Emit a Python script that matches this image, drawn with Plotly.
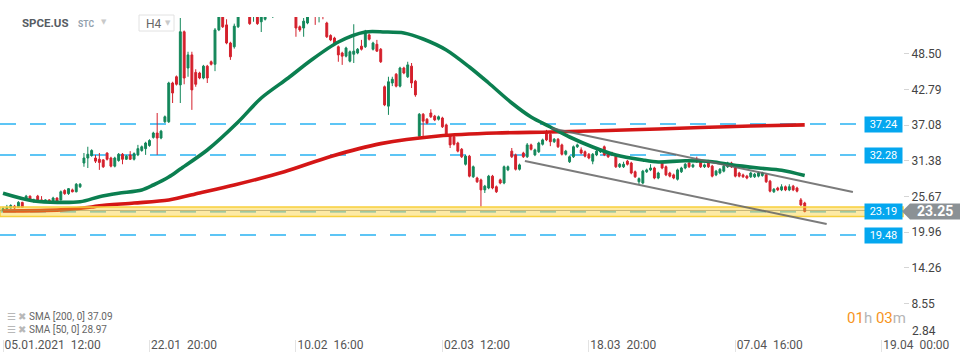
import plotly.graph_objects as go

# ---------------- data ----------------
opens = [23.4, 23.7, 23.8, 24.1, 23.9, 24.7, 25.1, 25.7, 24.8, 25.7,
         25.1, 24.8, 25.1, 24.8, 25.4, 25.1, 26.6, 26.1, 26.7, 26.4,
         27.2, 31.0, 31.8, 32.2, 31.8, 31.6, 31.5, 32.6, 31.8, 30.5,
         31.4, 32.4, 31.6, 32.3, 31.6, 32.3, 33.0, 33.3, 33.8, 35.1,
         35.8, 35.0, 37.6, 37.6, 43.8, 44.8, 43.5, 52.0, 46.2, 48.3,
         45.5, 45.4, 44.6, 46.5, 47.2, 46.8, 52.3, 55.0, 53.1, 50.2,
         49.6, 52.8, 55.2, 57.0, 55.5, 54.8, 55.6, 53.6, 54.0, 55.6,
         55.0, 56.0, 57.5, 56.5, 57.8, 56.8, 55.5, 52.8, 52.6, 53.4,
         55.2, 55.5, 55.0, 56.0, 53.4, 51.4, 51.0, 49.6, 48.6, 48.1,
         47.3, 48.4, 48.6, 49.7, 49.6, 51.5, 49.2, 50.0, 49.2, 43.2,
         40.1, 43.8, 45.2, 43.3, 46.2, 44.8, 46.5, 44.1, 35.3, 38.8,
         38.0, 39.0, 38.5, 38.0, 38.2, 37.1, 35.3, 35.2, 34.2, 33.2,
         30.8, 32.1, 28.8, 28.6, 28.3, 26.7, 27.0, 28.9, 27.2, 28.3,
         27.8, 29.9, 32.9, 32.3, 30.0, 32.6, 32.0, 33.9, 32.3, 32.8,
         34.0, 35.8, 35.6, 34.4, 34.8, 33.9, 32.4, 31.2, 32.0, 33.6,
         33.1, 32.8, 32.4, 31.3, 32.3, 32.8, 33.6, 32.6, 32.6, 32.1,
         30.4, 30.4, 31.3, 31.0, 29.6, 28.0, 27.8, 29.6, 29.9, 30.2,
         28.6, 31.0, 30.4, 29.4, 29.1, 28.4, 29.6, 30.2, 31.0, 30.4,
         31.5, 31.2, 30.4, 31.0, 30.5, 29.1, 29.4, 29.7, 30.4, 31.0,
         30.2, 29.4, 29.1, 28.9, 28.8, 28.8, 28.9, 29.0, 29.1, 28.1,
         26.4, 27.0, 26.7, 27.2, 26.7, 27.3, 27.0, 25.1, 24.6]
highs = [24.0, 24.3, 24.4, 24.3, 24.9, 24.8, 25.9, 25.8, 25.3, 25.9,
         25.7, 25.2, 25.2, 25.6, 25.5, 26.6, 26.8, 27.0, 26.9, 27.8,
         27.8, 32.6, 33.6, 33.2, 32.3, 32.6, 31.6, 32.7, 32.0, 32.0,
         32.6, 32.6, 32.3, 32.9, 32.7, 33.9, 33.8, 34.4, 34.8, 36.0,
         39.0, 36.3, 38.6, 44.0, 44.0, 45.0, 54.2, 52.2, 48.8, 48.8,
         46.0, 45.6, 46.7, 46.7, 47.4, 52.6, 55.5, 55.4, 54.0, 50.4,
         53.3, 55.6, 57.8, 58.0, 55.8, 57.0, 56.0, 55.5, 55.8, 56.0,
         56.5, 58.0, 58.0, 58.5, 58.3, 57.0, 55.8, 53.0, 54.2, 55.6,
         56.5, 55.8, 56.4, 56.2, 53.6, 51.6, 51.2, 49.8, 48.8, 49.6,
         49.0, 53.2, 49.4, 50.7, 52.3, 51.7, 50.4, 50.7, 49.4, 43.4,
         44.8, 44.8, 45.4, 46.4, 46.4, 47.2, 47.0, 44.3, 39.0, 39.0,
         38.2, 39.6, 38.7, 38.6, 38.4, 37.3, 35.5, 35.4, 34.4, 33.4,
         32.3, 32.3, 30.6, 28.8, 28.5, 27.5, 29.1, 29.1, 27.4, 28.5,
         30.6, 30.6, 33.4, 32.5, 30.9, 32.8, 34.2, 34.1, 33.3, 34.4,
         34.9, 36.3, 35.8, 35.0, 35.0, 34.1, 33.1, 32.2, 33.8, 34.1,
         33.5, 33.0, 32.6, 32.6, 33.1, 33.4, 33.8, 32.8, 32.8, 32.3,
         31.0, 31.2, 31.5, 31.2, 29.8, 28.7, 29.9, 30.1, 30.8, 30.4,
         29.6, 31.2, 30.6, 29.6, 29.3, 30.1, 30.4, 31.0, 31.2, 30.9,
         32.0, 31.4, 30.9, 31.5, 30.7, 29.9, 30.2, 30.7, 31.2, 31.2,
         30.4, 29.6, 29.3, 29.1, 29.6, 29.4, 29.6, 29.6, 29.3, 28.3,
         27.0, 27.2, 27.6, 27.4, 27.6, 27.5, 27.2, 25.4, 24.8]
lows = [23.2, 23.5, 23.7, 23.6, 23.8, 23.8, 25.0, 24.9, 24.7, 24.8,
        24.7, 24.6, 24.6, 24.6, 24.8, 25.0, 25.9, 25.9, 26.3, 26.3,
        27.0, 30.4, 30.2, 32.0, 31.0, 29.9, 30.2, 31.4, 30.3, 30.3,
        31.2, 30.8, 31.5, 31.5, 31.4, 32.1, 32.8, 32.3, 33.6, 34.9,
        32.3, 34.8, 37.4, 37.4, 40.6, 43.4, 40.6, 43.6, 44.8, 39.5,
        43.2, 44.4, 44.4, 43.8, 46.6, 45.7, 52.1, 52.6, 50.0, 47.5,
        49.3, 52.6, 54.8, 54.9, 53.1, 53.6, 53.1, 51.96, 53.8, 54.5,
        54.2, 55.5, 56.0, 56.0, 56.3, 55.0, 51.2, 52.0, 51.2, 53.2,
        54.8, 53.1, 53.5, 54.0, 51.0, 50.5, 50.0, 47.2, 46.7, 47.9,
        47.1, 47.0, 48.4, 49.0, 49.4, 50.6, 49.0, 48.8, 47.0, 40.1,
        38.7, 43.3, 43.1, 43.1, 45.2, 44.6, 43.0, 41.6, 35.1, 35.2,
        37.2, 38.2, 37.7, 37.8, 36.6, 35.3, 33.4, 33.8, 32.7, 31.8,
        30.6, 28.7, 28.6, 27.8, 24.0, 26.2, 26.8, 26.8, 26.2, 27.6,
        27.6, 29.7, 31.8, 29.8, 29.8, 31.8, 31.8, 33.0, 32.1, 32.6,
        33.8, 34.5, 33.7, 34.2, 33.4, 32.2, 32.2, 31.0, 31.8, 33.4,
        32.4, 31.9, 31.6, 30.8, 32.1, 32.6, 32.1, 31.8, 32.1, 30.2,
        30.2, 30.2, 30.6, 29.2, 28.6, 27.6, 27.6, 29.4, 29.7, 28.4,
        28.4, 30.0, 28.9, 28.7, 28.4, 28.2, 29.4, 30.0, 30.2, 30.2,
        31.0, 30.2, 30.2, 30.2, 28.7, 28.9, 29.2, 29.5, 30.2, 30.2,
        28.7, 28.7, 28.6, 28.4, 28.6, 28.6, 28.7, 28.8, 27.8, 26.3,
        26.2, 26.5, 26.5, 26.5, 26.5, 26.5, 26.3, 24.1, 23.1]
closes = [23.7, 23.9, 24.2, 23.8, 24.7, 23.9, 25.7, 25.1, 25.1, 24.9,
          24.8, 25.1, 24.8, 25.4, 24.9, 26.4, 26.1, 26.9, 26.4, 27.6,
          27.6, 31.8, 32.4, 33.0, 31.3, 31.1, 30.4, 31.6, 30.5, 31.8,
          32.4, 31.6, 32.1, 31.6, 32.5, 33.3, 33.6, 34.2, 34.6, 35.8,
          35.0, 36.1, 38.4, 43.8, 42.2, 43.6, 52.0, 44.6, 48.3, 42.7,
          43.6, 44.6, 46.5, 44.6, 46.8, 52.3, 55.0, 52.8, 50.2, 48.0,
          52.9, 55.0, 57.0, 55.5, 53.3, 56.5, 53.3, 55.0, 55.4, 54.8,
          56.0, 57.5, 56.5, 57.8, 56.8, 55.5, 52.6, 52.3, 53.7, 55.2,
          56.0, 54.6, 56.0, 55.0, 51.2, 50.7, 50.2, 48.3, 48.1, 49.4,
          48.8, 48.9, 49.2, 49.2, 51.8, 50.8, 50.2, 48.9, 47.2, 40.3,
          44.0, 44.4, 43.3, 46.2, 45.4, 46.7, 43.8, 41.9, 38.8, 37.7,
          37.4, 38.4, 37.9, 38.4, 36.8, 35.5, 33.9, 34.0, 32.9, 32.0,
          32.1, 28.9, 30.4, 28.0, 26.7, 27.3, 28.9, 27.0, 26.4, 27.8,
          30.4, 30.4, 32.0, 30.0, 30.7, 32.0, 33.9, 33.2, 33.1, 34.2,
          34.7, 34.7, 34.4, 34.8, 33.6, 32.4, 32.9, 32.0, 33.6, 33.9,
          32.6, 32.1, 31.8, 32.4, 32.9, 33.2, 32.3, 32.0, 32.3, 30.4,
          30.8, 30.8, 30.8, 29.4, 28.8, 28.5, 29.7, 29.9, 30.2, 28.6,
          29.4, 30.2, 29.1, 28.9, 28.6, 29.9, 30.2, 30.8, 30.4, 30.7,
          31.2, 30.4, 30.7, 30.4, 28.9, 29.7, 30.0, 30.5, 31.0, 30.4,
          28.9, 28.9, 28.8, 28.6, 29.4, 29.2, 29.4, 29.4, 28.0, 26.5,
          26.8, 26.7, 27.2, 26.7, 27.2, 26.7, 26.5, 24.3, 23.25]

# moving averages, read at points along the drawn curves (candle index, price)
sma200_idx = [0, 15, 23, 25, 34, 43, 51, 60, 73, 85, 98, 113, 128, 142, 157, 170, 181, 194, 208]
sma200_val = [23.32, 23.5, 23.96, 24.17, 24.6, 25.08, 26.2, 27.48, 29.6, 32.04, 34.1, 35.32,
              35.8, 35.96, 36.2, 36.44, 36.68, 36.92, 37.1]
sma50_idx = [0, 8, 20, 25, 30, 36, 39, 43, 46, 53, 61, 67, 74, 80, 87, 94, 99, 104, 109,
             115, 121, 126, 132, 137, 142, 147, 153, 159, 166, 170, 177, 184, 189, 196, 202, 208]
sma50_val = [26.15, 24.92, 24.8, 25.61, 26.15, 26.68, 27.48, 28.76, 30.04, 33.08, 37.56, 41.4,
             44.6, 47.48, 50.36, 51.96, 51.96, 51.8, 50.84, 49.08, 46.36, 43.8, 40.6, 38.36,
             36.76, 35.16, 33.56, 32.28, 31.48, 31.16, 31.36, 31.2, 30.7, 30.2, 29.85, 29.0]

levels = [37.24, 32.28, 23.19, 19.48]
zone_low, zone_high, zone_mid = 22.44, 23.96, 23.4
channel_upper_x = [142.3, 220.5]
channel_upper_y = [36.55, 26.36]
channel_lower_x = [135.4, 213.7]
channel_lower_y = [31.32, 21.24]

tick_idx = [0, 38, 76, 114, 152, 190, 228]
tick_text = ["05.01.2021\u00a0\u00a012:00", "22.01\u00a0\u00a020:00", "10.02\u00a0\u00a016:00",
             "02.03\u00a0\u00a012:00", "18.03\u00a0\u00a020:00", "07.04\u00a0\u00a016:00",
             "19.04\u00a0\u00a000:00"]
ytick_vals = [8.55, 14.26, 19.96, 25.67, 31.38, 37.08, 42.79, 48.50]
y_bottom_label = 2.84
last_price = 23.25
sma200_last = 37.09
sma50_last = 28.97

# ---------------- style / layout ----------------
W, H = 970, 364
ML, MR, MT, MB = 0, 67, 17, 25
PW, PH = W - ML - MR, H - MT - MB
Y0, Y1 = 2.84, 54.36
X0, X1 = -0.78, 233.5

GREEN = "#13875a"
RED = "#d4202c"
BLUE = "#29b2f2"
FONT = "Roboto"


def px2x(px):
    return (px - ML) / PW


def py2y(py):
    return (MT + PH - py) / PH


fig = go.Figure()
fig.add_trace(go.Candlestick(
    x=list(range(len(opens))), open=opens, high=highs, low=lows, close=closes,
    increasing=dict(line=dict(color=GREEN, width=1), fillcolor=GREEN),
    decreasing=dict(line=dict(color=RED, width=1), fillcolor=RED),
    whiskerwidth=0, showlegend=False, hoverinfo="skip"))
fig.add_trace(go.Scatter(x=sma200_idx, y=sma200_val, mode="lines",
                         line=dict(color="#d41616", width=3.6, shape="spline", smoothing=0.8),
                         showlegend=False, hoverinfo="skip"))
fig.add_trace(go.Scatter(x=sma50_idx, y=sma50_val, mode="lines",
                         line=dict(color="#0b7f50", width=3.6, shape="spline", smoothing=0.8),
                         showlegend=False, hoverinfo="skip"))

shapes = []
for lv in levels:
    shapes.append(dict(type="line", xref="x", yref="y", x0=X0, x1=221.5, y0=lv, y1=lv,
                       line=dict(color=BLUE, width=1.3, dash="16px,14px"), layer="below"))
# support zone
shapes.append(dict(type="rect", xref="paper", yref="y", x0=0, x1=1, y0=zone_low, y1=zone_high,
                   fillcolor="rgba(250,206,40,0.42)", line=dict(color="#f7d03c", width=1.5),
                   layer="above"))
shapes.append(dict(type="line", xref="paper", yref="y", x0=0, x1=1, y0=zone_mid, y1=zone_mid,
                   line=dict(color="rgba(160,140,80,0.55)", width=1), layer="above"))
# channel
for xs, ys in ((channel_upper_x, channel_upper_y), (channel_lower_x, channel_lower_y)):
    shapes.append(dict(type="line", xref="x", yref="y", x0=xs[0], x1=xs[1], y0=ys[0], y1=ys[1],
                       line=dict(color="rgba(100,100,100,0.85)", width=2), layer="above"))
# current price tag
cy = py2y(MT + (Y1 - last_price) / (Y1 - Y0) * PH)
dh = 8 / PH
shapes.append(dict(type="path", xref="paper", yref="paper",
                   path=(f"M {px2x(902)} {cy} L {px2x(910)} {cy + dh} L {px2x(960)} {cy + dh} "
                         f"L {px2x(960)} {cy - dh} L {px2x(910)} {cy - dh} Z"),
                   fillcolor="#8b9195", line=dict(width=0), layer="above"))
# H4 box
shapes.append(dict(type="rect", xref="paper", yref="paper", x0=px2x(139), x1=px2x(174),
                   y0=py2y(31), y1=py2y(15), line=dict(color="#e2e2e2", width=1),
                   fillcolor="white", layer="above"))

ann = []
for lv in levels:
    ann.append(dict(xref="paper", yref="y", x=px2x(883.5), y=lv, text=f"{lv:.2f}",
                    showarrow=False, bgcolor="#04a7ef", font=dict(family=FONT, size=11, color="white"),
                    width=35, height=13, borderpad=1, xanchor="center", yanchor="middle"))
ann.append(dict(xref="paper", yref="paper", x=px2x(935), y=cy, text=f"<b>{last_price:.2f}</b>",
                showarrow=False, font=dict(family=FONT, size=14, color="white"),
                xanchor="center", yanchor="middle"))
ann.append(dict(xref="paper", yref="paper", x=px2x(910), y=py2y(331), text=f"{y_bottom_label:.2f}",
                showarrow=False, font=dict(family=FONT, size=12, color="#444"),
                xanchor="left", yanchor="middle"))
ann.append(dict(xref="paper", yref="paper", x=px2x(20), y=py2y(23), text="<b>SPCE.US</b>",
                showarrow=False, font=dict(family=FONT, size=11.5, color="#565c63"),
                xanchor="left", yanchor="middle"))
ann.append(dict(xref="paper", yref="paper", x=px2x(76), y=py2y(24), text="<b>STC</b>",
                showarrow=False, font=dict(family=FONT, size=8.5, color="#93a1ae"),
                xanchor="left", yanchor="middle"))
ann.append(dict(xref="paper", yref="paper", x=px2x(99), y=py2y(22), text="▼",
                showarrow=False, font=dict(family="DejaVu Sans", size=7, color="#c9c9c9"),
                xanchor="left", yanchor="middle"))
ann.append(dict(xref="paper", yref="paper", x=px2x(144), y=py2y(23.5), text="H4",
                showarrow=False, font=dict(family=FONT, size=12, color="#666"),
                xanchor="left", yanchor="middle"))
ann.append(dict(xref="paper", yref="paper", x=px2x(163), y=py2y(23), text="▼",
                showarrow=False, font=dict(family="DejaVu Sans", size=7, color="#c9c9c9"),
                xanchor="left", yanchor="middle"))
for row, (per, val) in enumerate(((200, sma200_last), (50, sma50_last))):
    ann.append(dict(xref="paper", yref="paper", x=px2x(5), y=py2y(316.5 + 13 * row),
                    text=(f"<span style='color:#b8b8b8'>☰ ✖</span> SMA [{per}, 0] {val:.2f}"),
                    showarrow=False, font=dict(family=FONT, size=10, color="#666"),
                    xanchor="left", yanchor="middle"))
ann.append(dict(xref="paper", yref="paper", x=px2x(845), y=py2y(318),
                text=("<span style='color:#f7941d'>01</span><span style='color:#b5b5b5'>h</span> "
                      "<span style='color:#f7941d'>03</span><span style='color:#b5b5b5'>m</span>"),
                showarrow=False, font=dict(family=FONT, size=15), xanchor="left", yanchor="middle"))

fig.update_layout(
    width=W, height=H, margin=dict(l=ML, r=MR, t=MT, b=MB, pad=0, autoexpand=False),
    paper_bgcolor="white", plot_bgcolor="white", showlegend=False,
    font=dict(family=FONT, size=12, color="#444"),
    shapes=shapes, annotations=ann, hovermode=False,
)
fig.update_xaxes(range=[X0, X1], rangeslider_visible=False, showgrid=False, zeroline=False,
                 showline=False, tickmode="array", tickvals=tick_idx, ticktext=tick_text,
                 ticks="outside", ticklen=12, tickcolor="#e3e3e3", tickwidth=1,
                 ticklabelposition="outside right", ticklabelstandoff=-5, ticklabelshift=1,
                 tickfont=dict(family=FONT, size=12, color="#555"))
fig.update_yaxes(side="right", range=[Y0, Y1], showgrid=False, zeroline=False, showline=False,
                 tickmode="array", tickvals=ytick_vals, ticktext=[f"{v:.2f}" for v in ytick_vals],
                 ticks="outside", ticklen=5, tickcolor="#d5d5d5",
                 tickfont=dict(family=FONT, size=12, color="#444"))

fig.write_html("out.html", config={"displayModeBar": False},
               post_script="document.body.style.margin='0';document.body.style.overflow='hidden';")
